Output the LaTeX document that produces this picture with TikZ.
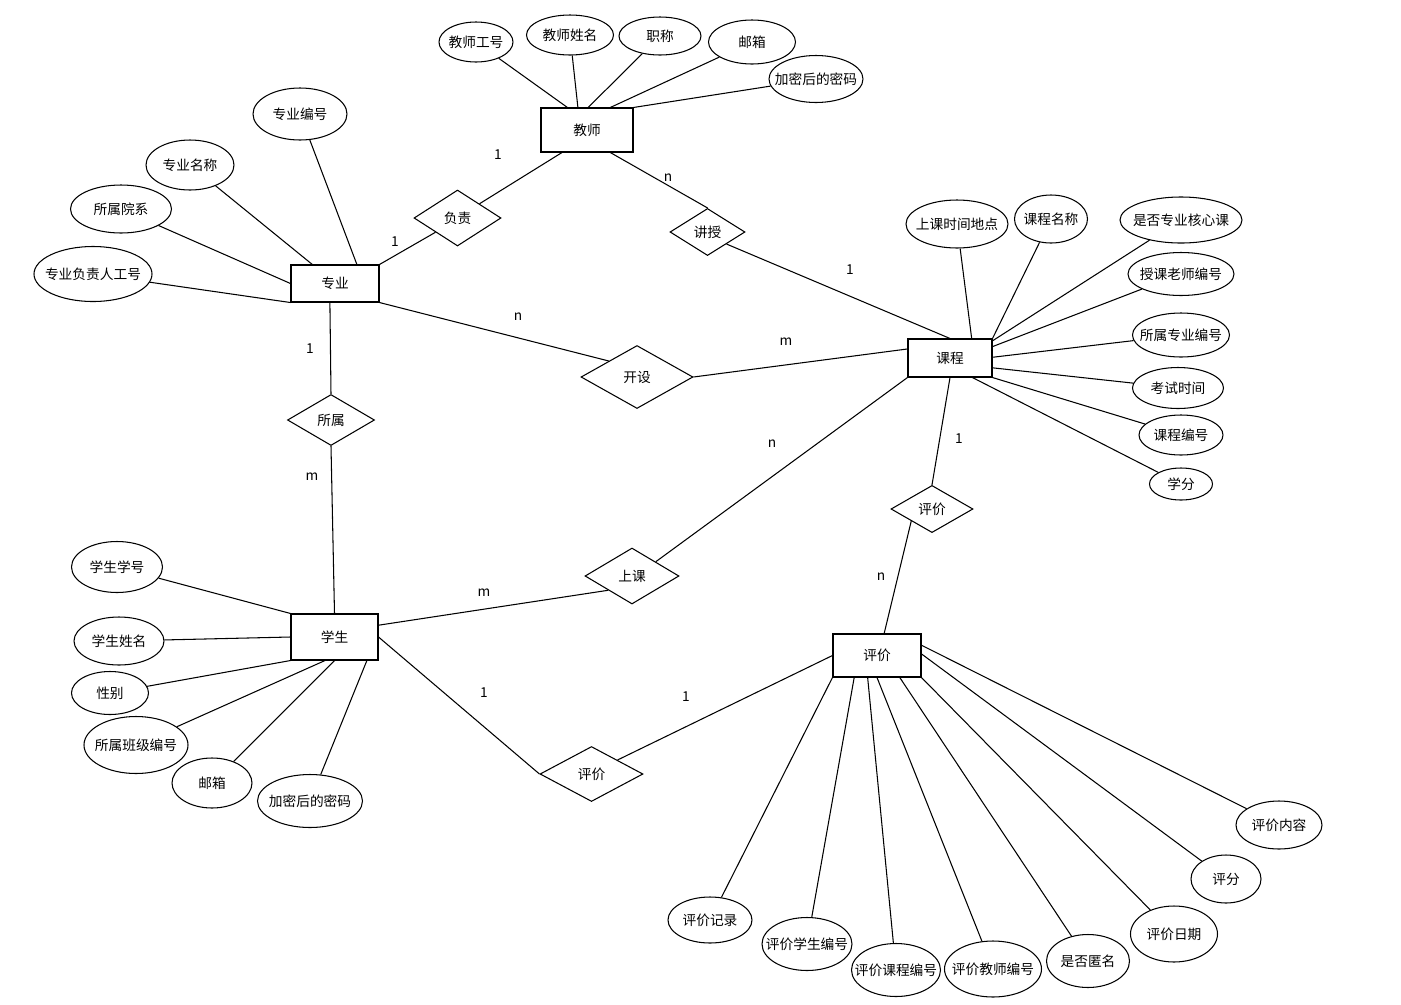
\documentclass[tikz,border=0pt]{standalone}
\usepackage{fontspec}
\setmainfont{Noto Sans CJK SC}
\usetikzlibrary{shapes.geometric}

\begin{document}
\begin{tikzpicture}[
  x=0.02cm, y=-0.02cm,
  every node/.style={font=\fontsize{7.8pt}{9pt}\selectfont},
  entity/.style 2 args={draw, rectangle, line width=0.6pt, inner sep=1pt,
                        minimum width=#1*0.02cm, minimum height=#2*0.02cm},
  attr/.style 2 args={draw, ellipse, line width=0.6pt, inner xsep=-12pt, inner ysep=0pt,
                      minimum width=#1*0.02cm, minimum height=#2*0.02cm},
  rel/.style 2 args={draw, diamond, line width=0.6pt, inner sep=1pt,
                     minimum width=#1*0.02cm, minimum height=#2*0.02cm},
  link/.style={line width=0.6pt},
  card/.style={inner sep=0pt}
]
  \useasboundingbox (0,0) rectangle (1401,1005);

  % entities
  \node[entity={92}{44}] (teacher) at (587,130) {教师};
  \node[entity={88}{37}] (major) at (335,283.5) {专业};
  \node[entity={84}{38}] (course) at (950,358) {课程};
  \node[entity={87}{46}] (student) at (334.5,637) {学生};
  \node[entity={88}{43}] (review) at (877,655.5) {评价};

  % relationships
  \node[rel={87}{56}] (resp) at (457.5,218) {负责};
  \node[rel={75}{42}] (teach) at (707.5,232) {讲授};
  \node[rel={112}{63}] (offer) at (637,377) {开设};
  \node[rel={87}{51}] (belong) at (331,420) {所属};
  \node[rel={94}{56}] (attend) at (632,576) {上课};
  \node[rel={82}{46}] (rate) at (932,509) {评价};
  \node[rel={103}{55}] (judge) at (591.5,774) {评价};

  % teacher attributes
  \node[attr={74}{40}] (tno) at (476,42) {教师工号};
  \node[attr={87}{40}] (tname) at (570,35) {教师姓名};
  \node[attr={82}{38}] (ttitle) at (660,36) {职称};
  \node[attr={87}{44}] (tmail) at (752,42) {邮箱};
  \node[attr={94}{47}] (tpwd) at (816,79) {加密后的密码};

  % major attributes
  \node[attr={94}{52}] (mno) at (300,114) {专业编号};
  \node[attr={88}{50}] (mname) at (190,165) {专业名称};
  \node[attr={101}{48}] (mdept) at (121,209) {所属院系};
  \node[attr={118}{55}] (mhead) at (93,274) {专业负责人工号};

  % course attributes
  \node[attr={102}{48}] (cplace) at (957,224) {上课时间地点};
  \node[attr={73}{48}] (cname) at (1051,219) {课程名称};
  \node[attr={122}{46}] (ccore) at (1181,220) {是否专业核心课};
  \node[attr={106}{43}] (cteacher) at (1181,274) {授课老师编号};
  \node[attr={97}{44}] (cmajor) at (1181,335) {所属专业编号};
  \node[attr={91}{41}] (cexam) at (1178,388) {考试时间};
  \node[attr={84}{40}] (cno) at (1181,435) {课程编号};
  \node[attr={63}{32}] (ccredit) at (1181,484) {学分};

  % student attributes
  \node[attr={91}{51}] (sno) at (117,567) {学生学号};
  \node[attr={90}{48}] (sname) at (119,641) {学生姓名};
  \node[attr={77}{43}] (ssex) at (110,693) {性别};
  \node[attr={104}{57}] (sclass) at (136,745) {所属班级编号};
  \node[attr={80}{50}] (smail) at (212,783) {邮箱};
  \node[attr={105}{53}] (spwd) at (310,801) {加密后的密码};

  % review attributes
  \node[attr={84}{46}] (rrec) at (710,920) {评价记录};
  \node[attr={90}{53}] (rstu) at (807,944) {评价学生编号};
  \node[attr={89}{53}] (rcourse) at (896,970) {评价课程编号};
  \node[attr={97}{56}] (rteacher) at (993,969) {评价教师编号};
  \node[attr={83}{53}] (ranon) at (1088,961) {是否匿名};
  \node[attr={87}{56}] (rdate) at (1174,934) {评价日期};
  \node[attr={70}{48}] (rscore) at (1226,879) {评分};
  \node[attr={86}{48}] (rcontent) at (1279,825) {评价内容};

  % cardinalities
  \node[card] (cTR) at (498,155) {1};
  \node[card] (cRM) at (395,242) {1};
  \node[card] (cTT) at (668,178) {n};
  \node[card] (cTC) at (850,270) {1};
  \node[card] (cMO) at (518,317) {n};
  \node[card] (cOC) at (786,342) {m};
  \node[card] (cMB) at (310,349) {1};
  \node[card] (cBS) at (312,477) {m};
  \node[card] (cAC) at (772,444) {n};
  \node[card] (cSA) at (484,593) {m};
  \node[card] (cCR) at (959,439) {1};
  \node[card] (cRR) at (881,577) {n};
  \node[card] (cSJ) at (484,693) {1};
  \node[card] (cJR) at (686,697) {1};

  % relationship links
  \draw[link] (teacher.222) -- (resp.north east);
  \draw[link] (resp.south west) -- (major.north east);
  \draw[link] (teacher.316) -- (teach.north);
  \draw[link] (teach.south east) -- (course.north);
  \draw[link] (major.south east) -- (offer.north west);
  \draw[link] (offer.east) -- (course.168);
  \draw[link] (major.255) -- (belong.north);
  \draw[link] (belong.south) -- (student.north);
  \draw[link] (student.15) -- (attend.south west);
  \draw[link] (attend.north east) -- (course.south west);
  \draw[link] (course.south) -- (rate.north);
  \draw[link] (rate.south west) -- (review.72);
  \draw[link] (student.east) -- (judge.west);
  \draw[link] (judge.north east) -- (review.west);

  % attribute links
  \draw[link] (tno) -- (teacher.131);
  \draw[link] (tname) -- (teacher.112);
  \draw[link] (ttitle) -- (teacher.87);
  \draw[link] (tmail) -- (teacher.44);
  \draw[link] (tpwd) -- (teacher.north east);

  \draw[link] (mno) -- (major.41);
  \draw[link] (mname) -- (major.140);
  \draw[link] (mdept) -- (major.west);
  \draw[link] (mhead) -- (major.south west);

  \draw[link] (cplace) -- (course.42);
  \draw[link] (cname) -- (course.north east);
  \draw[link] (ccore) -- (course.22);
  \draw[link] (cteacher) -- (course.15);
  \draw[link] (cmajor) -- (course.1);
  \draw[link] (cexam) -- (course.347);
  \draw[link] (cno) -- (course.south east);
  \draw[link] (ccredit) -- (course.319);

  \draw[link] (sno) -- (student.north west);
  \draw[link] (sname) -- (student.west);
  \draw[link] (ssex) -- (student.south west);
  \draw[link] (sclass) -- (student.248);
  \draw[link] (smail) -- (student.south);
  \draw[link] (spwd) -- (student.324);

  \draw[link] (rrec) -- (review.south west);
  \draw[link] (rstu) -- (review.224);
  \draw[link] (rcourse) -- (review.247);
  \draw[link] (rteacher) -- (review.south);
  \draw[link] (ranon) -- (review.316);
  \draw[link] (rdate) -- (review.south east);
  \draw[link] (rscore) -- (review.2);
  \draw[link] (rcontent) -- (review.13);
\end{tikzpicture}
\end{document}
